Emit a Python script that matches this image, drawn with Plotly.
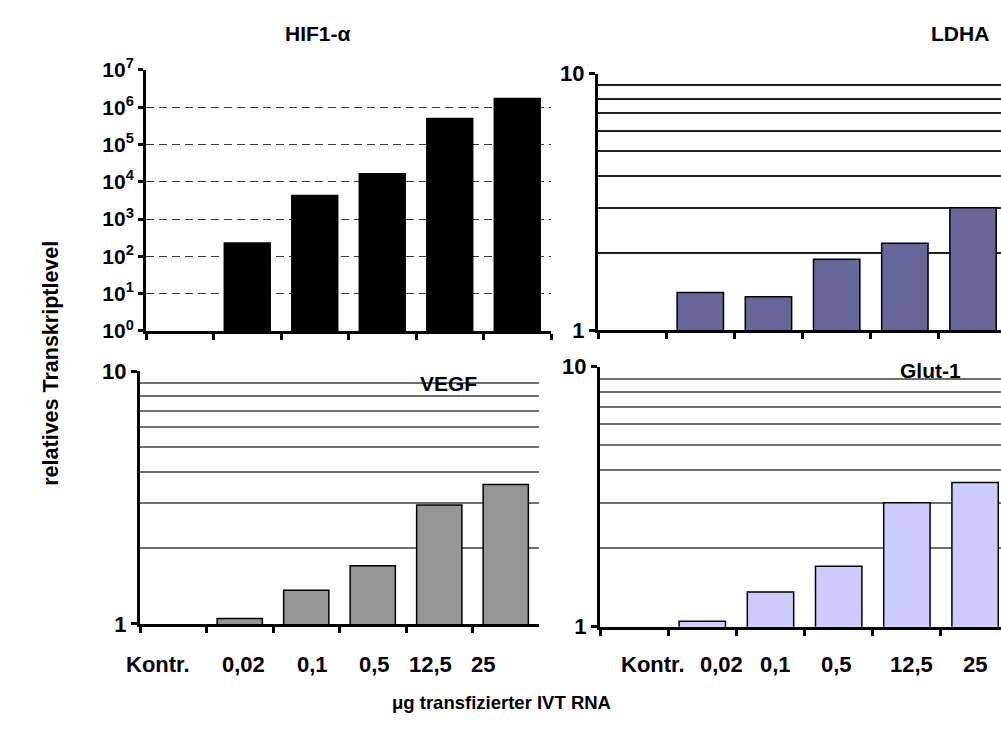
import plotly.graph_objects as go

# ---------------- data ----------------
categories = ["Kontr.", "0,02", "0,1", "0,5", "12,5", "25"]
hif1a = [1, 230, 4300, 16500, 500000, 1700000]
ldha = [1, 1.40, 1.35, 1.89, 2.18, 3.00]
vegf = [1, 1.05, 1.36, 1.70, 2.96, 3.57]
glut1 = [1, 1.05, 1.36, 1.71, 3.00, 3.59]

hif_tickvals = [1, 1e1, 1e2, 1e3, 1e4, 1e5, 1e6, 1e7]
hif_ticktext = ["10<sup>%d</sup>" % i for i in range(8)]
hif_gridvals = [1e1, 1e2, 1e3, 1e4, 1e5, 1e6]
lin_tickvals = [1, 10]
lin_ticktext = ["1", "10"]
minor_vals = [2, 3, 4, 5, 6, 7, 8, 9]

W, H = 1001, 740
FONT = "Liberation Sans, Arial, sans-serif"

def px(x):
    return x / W

def py(y):
    return 1 - y / H

fig = go.Figure()

panels = [
    dict(vals=hif1a, color="#000000", x=(146, 551), y=(58, 329), rng=[-0.5, 5.5]),
    dict(vals=ldha, color="#666699", x=(598, 1001), y=(62, 328), rng=[-0.5, 5.41]),
    dict(vals=vegf, color="#969696", x=(140, 539), y=(371, 633), rng=[-0.5, 5.5]),
    dict(vals=glut1, color="#CCCCFF", x=(600, 1001), y=(366, 636), rng=[-0.5, 5.38]),
]

for i, p in enumerate(panels):
    n = "" if i == 0 else str(i + 1)
    lw = [0 if v <= 1 else 1.5 for v in p["vals"]]
    fig.add_trace(go.Bar(
        x=categories, y=p["vals"], xaxis="x" + n, yaxis="y" + n,
        marker=dict(color=p["color"], line=dict(color="#000000", width=lw)),
        width=0.68, showlegend=False,
    ))
    xa = dict(
        domain=[px(p["x"][0]), px(p["x"][1])], anchor="y" + n,
        type="category", range=p["rng"], showticklabels=False,
        showline=True, linecolor="black", linewidth=3,
        ticks="outside", tickson="boundaries", ticklen=6, tickwidth=3, tickcolor="black",
        showgrid=False, zeroline=False, fixedrange=True,
    )
    if i == 0:
        ya = dict(
            domain=[py(p["y"][1]), py(p["y"][0])], anchor="x" + n,
            type="log", range=[0, 7],
            tickvals=hif_tickvals, ticktext=hif_ticktext,
            tickfont=dict(family=FONT, size=21, color="black", weight="bold"),
            showline=True, linecolor="black", linewidth=3,
            ticks="outside", ticklen=5, tickwidth=3, tickcolor="black",
            showgrid=False,
            minor=dict(tickvals=hif_gridvals, showgrid=True,
                       gridcolor="#3a3a3a", griddash="8px,5px", gridwidth=1.3),
            zeroline=False, fixedrange=True,
        )
    else:
        gc = "#222222" if i == 1 else "#6e6e6e"
        ya = dict(
            domain=[py(p["y"][1]), py(p["y"][0])], anchor="x" + n,
            type="log", range=[0, 1],
            tickvals=lin_tickvals, ticktext=lin_ticktext,
            tickfont=dict(family=FONT, size=22, color="black", weight="bold"),
            showline=True, linecolor="black", linewidth=3,
            ticks="outside", ticklen=6, tickwidth=3, tickcolor="black",
            showgrid=True, gridcolor="#e6e6e6", griddash="dash", gridwidth=1,
            minor=dict(tickvals=minor_vals, showgrid=True, gridcolor=gc,
                       griddash="solid", gridwidth=1.5),
            zeroline=False, fixedrange=True,
        )
    fig.update_layout(**{"xaxis" + n: xa, "yaxis" + n: ya})

annotations = []
titles = [("HIF1-α", 318, 20), ("LDHA", 960, 20), ("VEGF", 448, 383), ("Glut-1", 930, 370)]
for t, x, y in titles:
    annotations.append(dict(text=t, x=px(x), y=py(y), xref="paper", yref="paper",
                            xanchor="center", yanchor="middle", showarrow=False,
                            font=dict(family=FONT, size=21, color="black", weight="bold")))

label_x_left = [158, 243, 312, 374, 430, 483]
label_x_right = [653, 721, 775, 836, 911, 975]
for xs in (label_x_left, label_x_right):
    for lab, x in zip(categories, xs):
        annotations.append(dict(text=lab, x=px(x), y=py(675), xref="paper", yref="paper",
                                xanchor="center", yanchor="middle", showarrow=False,
                                font=dict(family=FONT, size=22, color="black", weight="bold")))

annotations.append(dict(text="relatives Transkriptlevel", x=px(51), y=py(363), xref="paper", yref="paper",
                        xanchor="center", yanchor="middle", showarrow=False, textangle=-90,
                        font=dict(family=FONT, size=21.5, color="black", weight="bold")))
annotations.append(dict(text="μg transfizierter IVT RNA", x=px(501), y=py(715), xref="paper", yref="paper",
                        xanchor="center", yanchor="middle", showarrow=False,
                        font=dict(family=FONT, size=18.5, color="black", weight="bold")))

fig.update_layout(
    width=W, height=H, margin=dict(l=0, r=0, t=0, b=0),
    paper_bgcolor="white", plot_bgcolor="white",
    bargap=0.32, annotations=annotations, showlegend=False,
)

fig.write_html("out.html", config={"displayModeBar": False})
